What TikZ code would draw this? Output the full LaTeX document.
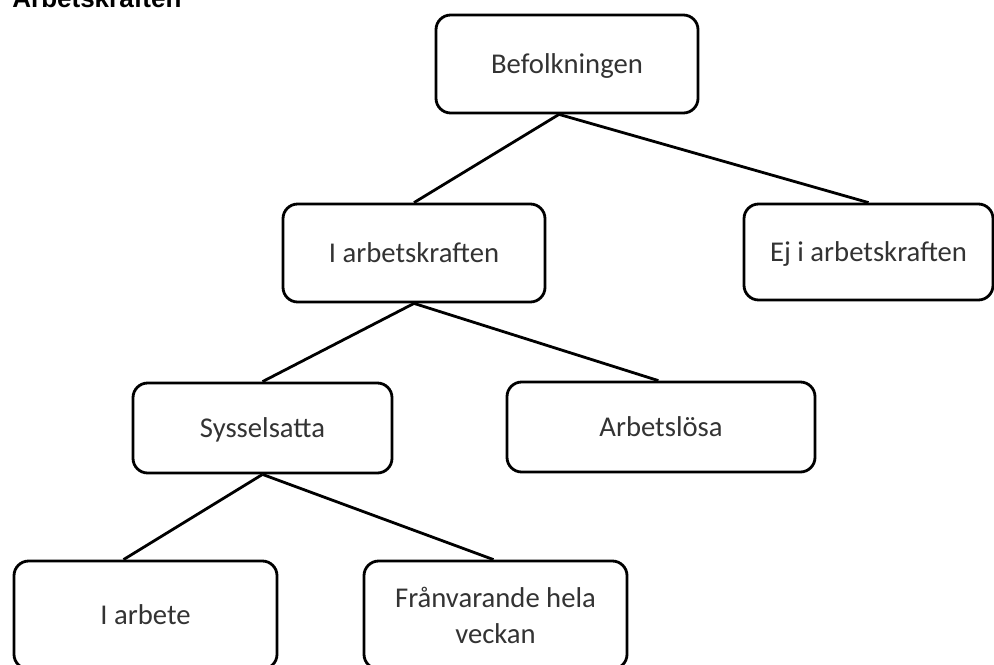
\documentclass[tikz,border=0pt]{standalone}
\usepackage{fontspec}
\setmainfont{Carlito}
\newfontfamily\titlefont{Liberation Sans}
\usetikzlibrary{positioning}

\begin{document}
\begin{tikzpicture}[x=0.75pt, y=-0.75pt, line width=2.1pt,
  box/.style={draw, rounded corners=11pt, align=center, inner sep=0pt,
    text=black!80, font=\fontsize{21.5}{27}\selectfont, text depth=0pt,
    minimum width=196.5pt, minimum height=73.5pt}]

  % picture frame
  \clip (0,0) rectangle (994,664);
  \useasboundingbox (0,0) rectangle (994,664);

  % title, cut off at the top edge
  \node[anchor=base west, inner sep=0pt, font=\titlefont\bfseries\fontsize{19.5}{22}\selectfont]
    (title) at (11,7.3) {Arbetskraften};

  % the boxes of the tree
  \node[box] (bef) at (567,64) {Befolkningen};
  \node[box] (iak) at (414,253) {I arbetskraften};
  \node[box, minimum width=186.75pt, minimum height=72pt] (ej) at (868.5,252) {Ej i arbetskraften};
  \node[box, minimum width=194.25pt, minimum height=67.5pt] (syss) at (262.5,428) {Sysselsatta};
  \node[box, minimum width=231pt, minimum height=67.5pt] (arbl) at (661,427) {Arbetslösa};
  \node[box, minimum width=197.25pt, minimum height=81pt] (iarb) at (145.5,615) {I arbete};
  \node[box, minimum width=197.25pt, minimum height=81pt] (fran) at (495.5,615) {Frånvarande hela\\veckan};

  % branches
  \draw ([xshift=-6pt]bef.south) -- (iak.north);
  \draw ([xshift=-6pt]bef.south) -- (ej.north);
  \draw (iak.south) -- (syss.north);
  \draw (iak.south) -- ([xshift=-2pt]arbl.north);
  \draw (syss.south) -- ([xshift=-16.5pt]iarb.north);
  \draw (syss.south) -- ([xshift=-1.5pt]fran.north);

\end{tikzpicture}
\end{document}
